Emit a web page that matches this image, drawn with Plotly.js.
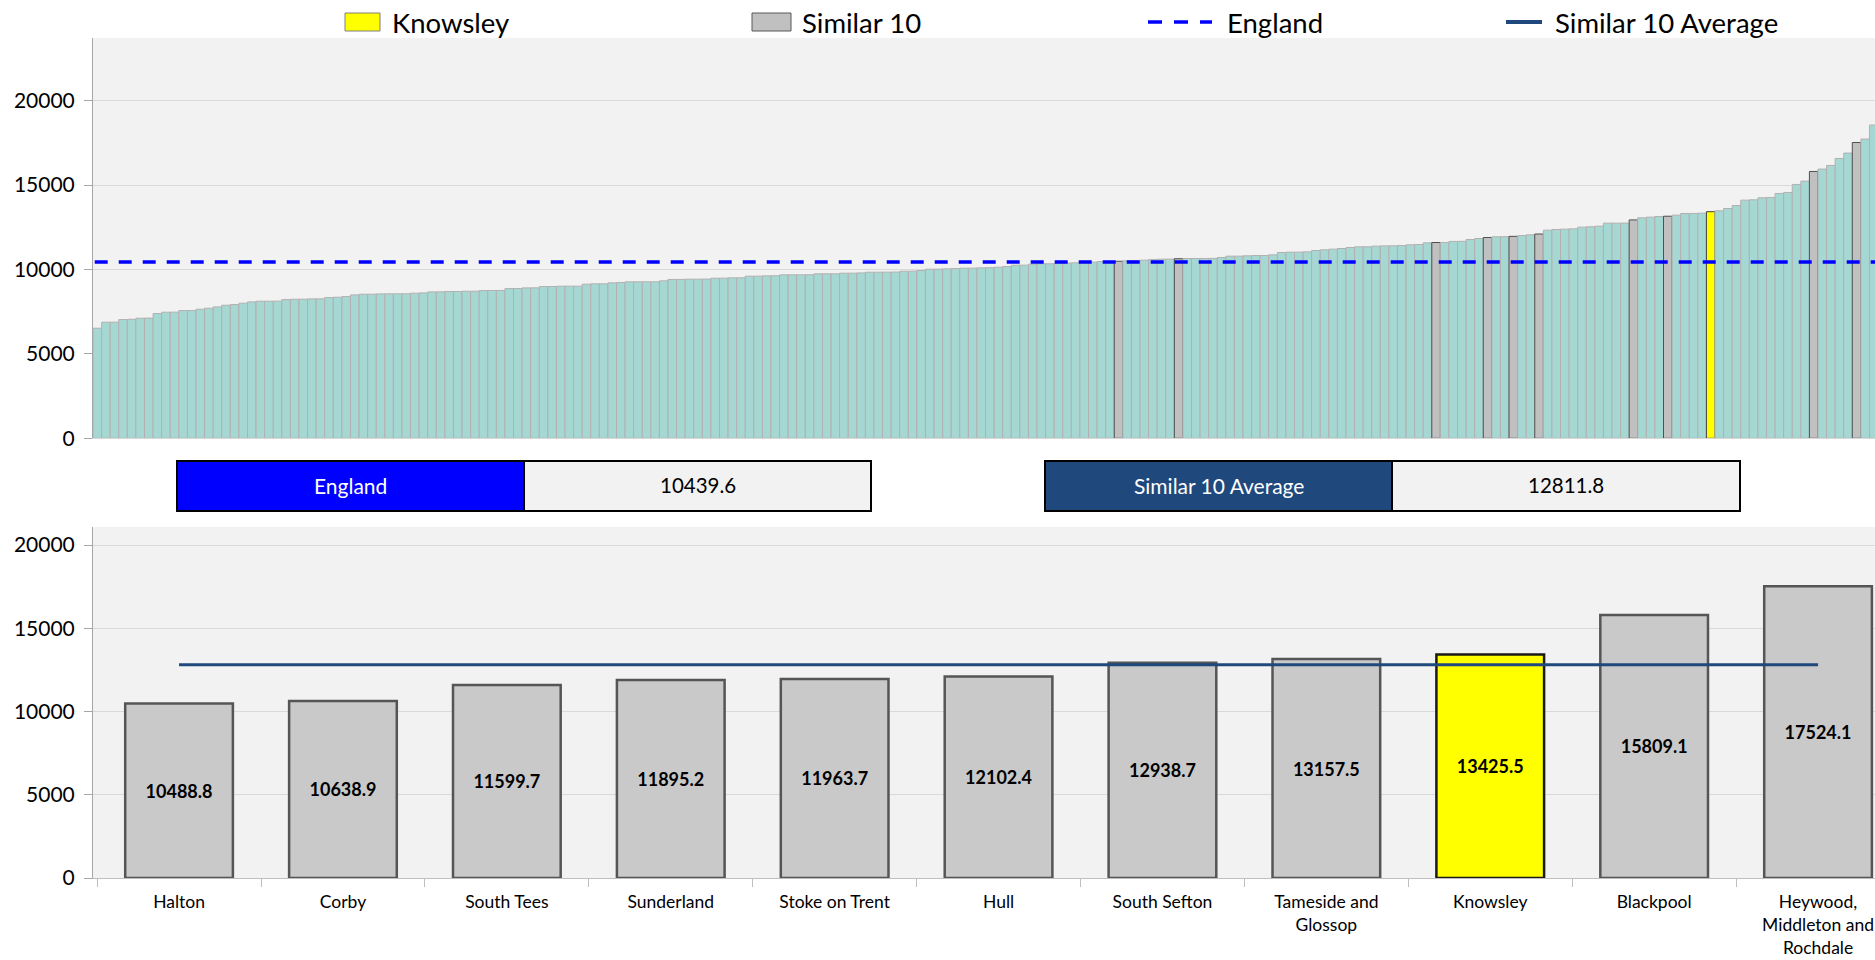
<!DOCTYPE html>
<html>
<head>
<meta charset="utf-8">
<script src="https://cdn.plot.ly/plotly-3.0.1.min.js"></script>
<style>
  html, body { margin: 0; padding: 0; background: #ffffff; }
  #chart { width: 1875px; height: 960px; }
</style>
</head>
<body>
<div id="chart"></div>
<script>
// ---------- DATA ----------
// All CCG values in England, sorted ascending (top chart; right end cropped)
const allAreaValues = [
  6522, 6878, 6880, 7033, 7050, 7115, 7120, 7390, 7470, 7475,
  7567, 7570, 7648, 7707, 7785, 7885, 7924, 8004, 8082, 8121,
  8123, 8126, 8220, 8240, 8242, 8260, 8263, 8337, 8357, 8397,
  8496, 8536, 8538, 8556, 8557, 8558, 8560, 8596, 8615, 8674,
  8676, 8694, 8696, 8714, 8716, 8753, 8755, 8760, 8871, 8873,
  8911, 8913, 8990, 8993, 9011, 9013, 9015, 9130, 9150, 9152,
  9209, 9229, 9268, 9269, 9270, 9275, 9327, 9410, 9415, 9426,
  9430, 9435, 9485, 9487, 9505, 9510, 9604, 9606, 9624, 9630,
  9683, 9684, 9685, 9690, 9742, 9743, 9745, 9782, 9784, 9800,
  9841, 9842, 9845, 9850, 9900, 9902, 9940, 10019, 10021, 10040,
  10058, 10078, 10080, 10098, 10110, 10137, 10177, 10256, 10258, 10315,
  10335, 10340, 10375, 10378, 10395, 10434, 10436, 10473, 10475, 10488.8,
  10513, 10515, 10553, 10592, 10612, 10615, 10638.9, 10651, 10653, 10655,
  10658, 10711, 10790, 10792, 10810, 10830, 10832, 10869, 11007, 11027,
  11030, 11047, 11126, 11166, 11206, 11244, 11303, 11343, 11345, 11382,
  11400, 11403, 11422, 11462, 11480, 11580, 11599.7, 11602, 11665, 11672,
  11778, 11837, 11895.2, 11940, 11945, 11963.7, 12015, 12055, 12102.4, 12331,
  12370, 12390, 12410, 12509, 12530, 12568, 12746, 12748, 12750, 12938.7,
  13062, 13102, 13141, 13157.5, 13220, 13319, 13322, 13340, 13425.5, 13477,
  13615, 13793, 14110, 14130, 14248, 14268, 14505, 14564, 15039, 15237,
  15809.1, 15950, 16165, 16580, 16899, 17524.1, 17729, 18559
];

// Similar 10 areas + Knowsley (bottom chart)
const similarNames = [
  "Halton", "Corby", "South Tees", "Sunderland", "Stoke on Trent", "Hull",
  "South Sefton", "Tameside and Glossop", "Knowsley", "Blackpool",
  "Heywood, Middleton and Rochdale"
];
const similarTickLabels = [
  "Halton", "Corby", "South Tees", "Sunderland", "Stoke on Trent", "Hull",
  "South Sefton", "Tameside and<br>Glossop", "Knowsley", "Blackpool",
  "Heywood,<br>Middleton and<br>Rochdale"
];
const similarValues = [
  10488.8, 10638.9, 11599.7, 11895.2, 11963.7, 12102.4,
  12938.7, 13157.5, 13425.5, 15809.1, 17524.1
];
const focusArea = "Knowsley";
const englandValue = 10439.6;
const similarAverage = 12811.8;

const legendLabels = ["Knowsley", "Similar 10", "England", "Similar 10 Average"];
const yTickValues = [0, 5000, 10000, 15000, 20000];

// ---------- STYLE ----------
const W = 1875, H = 960;
const FONT = "Lato, 'Liberation Sans', Arial, sans-serif";
const C_TEAL = "#a6d8d3", C_GREY = "#c0c0c0", C_GREY_B = "#c9c9c9",
      C_YELLOW = "#ffff00", C_ENG = "#0000ff", C_AVG = "#1f497d",
      C_PLOT = "#f2f2f2", C_GRID = "#d9d9d9";
const px = x => x / W;            // pixel -> paper x
const py = y => 1 - y / H;        // pixel -> paper y

const focusValue = similarValues[similarNames.indexOf(focusArea)];

// top chart colours derived from membership in the similar set
const topIdx = allAreaValues.map((v, i) => i);
const topColors = allAreaValues.map(v =>
  v === focusValue ? C_YELLOW : (similarValues.includes(v) ? C_GREY : C_TEAL));
const topLineColors = allAreaValues.map(v =>
  v === focusValue ? "#404040" : (similarValues.includes(v) ? "#505050" : "#b3b0b0"));

const traces = [
  {
    type: "bar", x: topIdx, y: allAreaValues,
    xaxis: "x", yaxis: "y",
    marker: { color: topColors, line: { color: topLineColors, width: 1 } },
    width: 1, showlegend: false, hoverinfo: "y"
  },
  {
    type: "scatter", mode: "lines",
    x: [topIdx[0] - 0.3, topIdx[topIdx.length - 1] + 0.5],
    y: [englandValue, englandValue],
    xaxis: "x", yaxis: "y",
    line: { color: C_ENG, width: 3.5, dash: "13px,11px" },
    showlegend: false, hoverinfo: "skip"
  },
  {
    type: "bar", x: similarNames, y: similarValues,
    xaxis: "x2", yaxis: "y2", width: 0.657,
    marker: {
      color: similarNames.map(n => n === focusArea ? C_YELLOW : C_GREY_B),
      line: { color: similarNames.map(n => n === focusArea ? "#1a1a1a" : "#555555"), width: 2.5 }
    },
    text: similarValues.map(v => v.toFixed(1)),
    textposition: "inside", insidetextanchor: "middle",
    textangle: 0, constraintext: "none",
    insidetextfont: { family: FONT, size: 18, color: "#000000", weight: 700 },
    showlegend: false, hoverinfo: "x+y"
  },
  {
    type: "scatter", mode: "lines",
    x: [similarNames[0], similarNames[similarNames.length - 1]],
    y: [similarAverage, similarAverage],
    xaxis: "x2", yaxis: "y2",
    line: { color: C_AVG, width: 3 },
    showlegend: false, hoverinfo: "skip"
  }
];

// ---------- LAYOUT PIECES ----------
const shapes = [];
const annotations = [];

// legend (manual, to match the original spacing)
const legendY = 22;
shapes.push({ type: "rect", xref: "paper", yref: "paper",
  x0: px(345), x1: px(380), y0: py(legendY - 9), y1: py(legendY + 9),
  fillcolor: C_YELLOW, line: { color: "#7f7f7f", width: 1 } });
shapes.push({ type: "rect", xref: "paper", yref: "paper",
  x0: px(752), x1: px(791), y0: py(legendY - 9), y1: py(legendY + 9),
  fillcolor: C_GREY, line: { color: "#595959", width: 1 } });
shapes.push({ type: "line", xref: "paper", yref: "paper",
  x0: px(1148), x1: px(1212), y0: py(legendY), y1: py(legendY),
  line: { color: C_ENG, width: 3.5, dash: "14px,12px" } });
shapes.push({ type: "line", xref: "paper", yref: "paper",
  x0: px(1506), x1: px(1542), y0: py(legendY), y1: py(legendY),
  line: { color: C_AVG, width: 4 } });
const legendTextX = [390, 800, 1225, 1553];
legendLabels.forEach((t, i) => annotations.push({
  xref: "paper", yref: "paper", x: px(legendTextX[i]), y: py(legendY),
  xanchor: "left", yanchor: "middle", text: t, showarrow: false,
  font: { family: FONT, size: 27.5, color: "#000000" }
}));

// summary boxes
function summaryBox(x0, xm, x1, fill, label, value) {
  shapes.push({ type: "rect", xref: "paper", yref: "paper",
    x0: px(x0), x1: px(xm), y0: py(511), y1: py(461),
    fillcolor: fill, line: { color: "#000000", width: 2 } });
  shapes.push({ type: "rect", xref: "paper", yref: "paper",
    x0: px(xm), x1: px(x1), y0: py(511), y1: py(461),
    fillcolor: "#f2f2f2", line: { color: "#000000", width: 2 } });
  annotations.push({ xref: "paper", yref: "paper", x: px((x0 + xm) / 2), y: py(485),
    text: label, showarrow: false, xanchor: "center", yanchor: "middle",
    font: { family: FONT, size: 21, color: "#ffffff" } });
  annotations.push({ xref: "paper", yref: "paper", x: px((xm + x1) / 2), y: py(485),
    text: value.toFixed(1), showarrow: false, xanchor: "center", yanchor: "middle",
    font: { family: FONT, size: 20.5, color: "#000000" } });
}
summaryBox(177, 524, 871, C_ENG, legendLabels[2], englandValue);
summaryBox(1045, 1392, 1740, C_AVG, legendLabels[3], similarAverage);

const axisY = {
  tickmode: "array", tickvals: yTickValues, ticktext: yTickValues.map(String),
  ticks: "outside", ticklen: 8, tickcolor: "#a6a6a6",
  ticklabelstandoff: 5,
  showgrid: true, gridcolor: C_GRID, gridwidth: 1,
  showline: true, linecolor: "#a6a6a6", linewidth: 1,
  zeroline: false, tickfont: { family: FONT, size: 21, color: "#000000" },
  fixedrange: true
};

const layout = {
  width: W, height: H,
  margin: { l: 0, r: 0, t: 0, b: 0 },
  paper_bgcolor: "#ffffff", plot_bgcolor: C_PLOT,
  font: { family: FONT, color: "#000000" },
  showlegend: false,
  bargap: 0,
  barmode: "overlay",
  xaxis: {
    domain: [px(93), 1], anchor: "y",
    range: [-0.5, -0.5 + (W - 93) / 8.582],
    showticklabels: false, ticks: "", showgrid: false, zeroline: false,
    showline: true, linecolor: "#d9d9d9", linewidth: 1, fixedrange: true
  },
  yaxis: Object.assign({}, axisY, {
    domain: [py(438.3), py(38)], anchor: "x", range: [0, 23716]
  }),
  xaxis2: {
    domain: [px(93), 1], anchor: "y2", type: "category",
    range: [-0.525, -0.525 + (W - 93) / 163.9],
    tickmode: "array", tickvals: similarNames, ticktext: similarTickLabels,
    tickson: "boundaries", ticks: "outside", ticklen: 8, tickcolor: "#bfbfbf",
    ticklabelstandoff: 8,
    showgrid: false, zeroline: false,
    showline: true, linecolor: "#bfbfbf", linewidth: 1,
    tickfont: { family: FONT, size: 17.5, color: "#000000" },
    fixedrange: true
  },
  yaxis2: Object.assign({}, axisY, {
    domain: [py(878), py(527)], anchor: "x2", range: [0, 21090]
  }),
  shapes: shapes,
  annotations: annotations
};

Plotly.newPlot("chart", traces, layout, { displayModeBar: false, staticPlot: true });
</script>
</body>
</html>
